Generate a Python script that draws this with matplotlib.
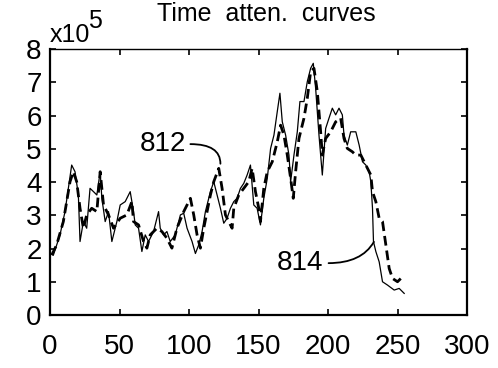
import matplotlib.pyplot as plt

plt.rcParams['font.family'] = ['Liberation Sans Narrow', 'Liberation Sans', 'DejaVu Sans']

# Time attenuation, units of 1e5
x_solid = [2.4, 7.2, 10.8, 13.2, 15.6, 18.0, 20.4, 21.6, 24.0, 26.4, 28.8, 31.3,
           33.7, 36.1, 37.3, 39.7, 42.1, 44.5, 48.1, 50.5, 54.1, 57.7, 60.1, 61.3,
           63.7, 66.1, 68.5, 70.9, 74.5, 78.1, 79.3, 81.7, 84.1, 86.5, 90.1, 93.8,
           96.2, 98.6, 102.2, 104.6, 107.0, 109.4, 111.8, 115.4, 117.8, 120.2, 122.6,
           125.0, 127.4, 129.8, 132.2, 134.6, 137.0, 139.4, 141.8, 144.2, 146.6,
           149.0, 151.4, 153.8, 156.3, 158.7, 161.1, 163.5, 165.4, 167.1, 169.5,
           171.9, 173.1, 175.5, 177.9, 179.8, 182.7, 185.1, 187.5, 189.4, 191.1,
           193.5, 195.9, 198.3, 200.7, 203.1, 205.5, 207.9, 210.3, 211.5, 213.9,
           216.3, 220.0, 222.4, 224.8, 227.2, 229.6, 230.8, 232.0, 232.7, 234.4,
           236.8, 239.2, 242.8, 247.6, 251.2, 254.8]
y_solid = [1.80, 2.41, 3.11, 3.81, 4.51, 4.31, 3.61, 2.21, 2.81, 2.61, 3.81, 3.71,
           3.61, 4.31, 3.51, 2.81, 3.11, 2.21, 2.81, 3.31, 3.41, 3.71, 3.11, 2.71,
           2.61, 1.91, 2.41, 2.21, 2.51, 3.11, 2.61, 2.41, 2.51, 2.21, 2.41, 3.01,
           3.06, 2.61, 2.21, 1.85, 2.11, 2.51, 3.11, 3.71, 4.01, 3.61, 3.21,
           2.76, 2.91, 3.21, 3.41, 3.51, 3.81, 3.96, 4.21, 4.51, 3.31,
           3.21, 2.71, 3.51, 4.11, 5.01, 5.41, 6.12, 6.67, 5.81, 5.41,
           4.81, 4.01, 4.81, 5.51, 6.42, 6.42, 7.02, 7.42, 7.57, 6.82,
           5.41, 4.21, 5.61, 5.92, 6.22, 6.02, 6.22, 6.02, 5.41, 5.11,
           5.51, 5.51, 5.11, 4.61, 4.51, 4.31, 4.01, 3.21, 2.21, 1.91,
           1.60, 1.00, 0.90, 0.75, 0.80, 0.65]

x_dash = [1.2, 4.8, 9.6, 14.4, 16.8, 19.2, 21.6, 24.0, 26.4, 30.0, 33.7, 36.1,
          38.5, 42.1, 45.7, 50.5, 55.3, 58.9, 60.1, 63.7, 67.3, 69.7, 72.1, 76.9,
          80.5, 84.1, 87.7, 91.3, 96.2, 101.0, 103.4, 105.8, 108.2, 110.6, 113.0,
          115.4, 117.8, 121.4, 123.8, 126.2, 128.6, 131.0, 132.2, 135.8, 139.4,
          143.0, 145.4, 147.8, 150.2, 151.4, 153.8, 156.3, 159.9, 163.5, 165.9,
          168.3, 170.7, 173.1, 175.0, 176.7, 179.1, 182.7, 185.1, 187.5, 189.9,
          192.3, 194.7, 195.9, 198.3, 201.9, 205.5, 209.1, 211.5, 213.9, 217.5,
          220.0, 223.6, 227.2, 230.8, 232.0, 234.4, 236.8, 239.2, 241.6, 244.0,
          246.4, 250.0, 252.4]
y_dash = [1.80, 2.11, 2.81, 4.01, 4.31, 4.01, 3.21, 2.61, 3.01, 3.21, 3.11, 4.31,
          3.31, 3.01, 2.61, 2.91, 3.01, 3.41, 2.81, 2.71, 2.21, 2.01, 2.41, 2.61,
          2.51, 2.31, 2.01, 2.61, 3.11, 3.51, 3.01, 2.41, 2.01, 2.61, 3.11,
          3.61, 4.01, 4.41, 3.81, 3.01, 2.81, 2.61, 3.21, 3.61, 3.81,
          4.01, 4.41, 3.71, 3.21, 2.81, 3.81, 4.31, 4.61, 5.21, 5.71,
          5.41, 4.81, 4.11, 3.51, 4.31, 5.31, 5.92, 6.52, 7.32, 7.42,
          6.72, 5.51, 4.81, 5.31, 5.51, 5.81, 5.92, 5.31, 5.01, 4.91,
          4.81, 4.81, 4.51, 4.21, 3.71, 3.41, 2.91, 2.81, 2.11, 1.40,
          1.10, 1.00, 1.10]

fig = plt.figure(figsize=(4.98, 3.68), dpi=100)
ax = fig.add_axes([0.1004, 0.144, 0.8374, 0.7228])

ax.plot(x_solid, y_solid, color='black', lw=0.9)
ax.plot(x_dash, y_dash, color='black', lw=2.0, dashes=(3.5, 1.8))

ax.set_xlim(0, 300)
ax.set_ylim(0, 8)
ax.set_xticks(range(0, 301, 50))
ax.set_yticks(range(0, 9))
ax.tick_params(direction='in', length=4, width=1.2, labelsize=20,
               top=True, right=True)
ax.tick_params(axis='x', pad=14)
ax.tick_params(axis='y', pad=6)
for s in ax.spines.values():
    s.set_linewidth(1.6)
ax.spines['top'].set_linewidth(1.0)

# curve labels with curved leader lines
ax.text(81.5, 5.14, '812', fontsize=20, ha='center', va='center')
ax.annotate('', xy=(122.6, 4.55), xytext=(101.0, 5.14),
            arrowprops=dict(arrowstyle='-', color='black', lw=1.3,
                            shrinkA=0, shrinkB=0,
                            connectionstyle='angle3,angleA=0,angleB=90'))
ax.text(180.2, 1.56, '814', fontsize=20, ha='center', va='center')
ax.annotate('', xy=(233.0, 2.2), xytext=(200.4, 1.56),
            arrowprops=dict(arrowstyle='-', color='black', lw=1.3,
                            shrinkA=0, shrinkB=0,
                            connectionstyle='angle3,angleA=0,angleB=60'))

fig.text(0.535, 0.943, 'Time  atten.  curves', fontsize=18, ha='center', va='baseline')
fig.text(0.100, 0.886, 'x10', fontsize=18, ha='left', va='baseline')
fig.text(0.176, 0.924, '5', fontsize=18, ha='left', va='baseline')

fig.savefig('out.png', dpi=100)
